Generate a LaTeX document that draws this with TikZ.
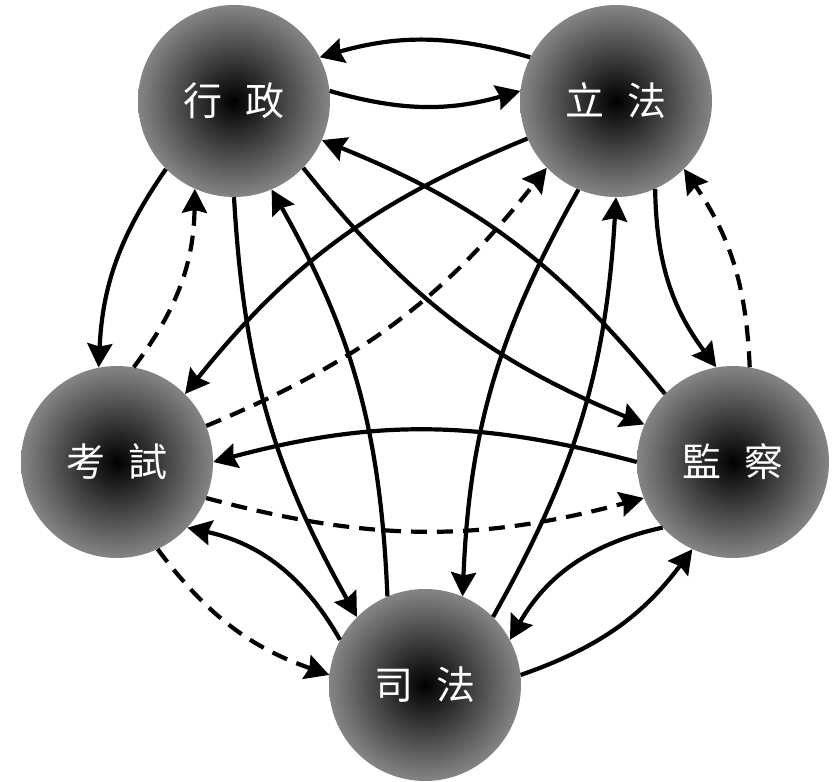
\documentclass[tikz,border=0pt]{standalone}
\usepackage{fontspec}
\newfontfamily\cjk{Noto Sans CJK TC}
\usetikzlibrary{arrows.meta}
\tikzset{
  branch/.style={circle, minimum size=192pt, inner sep=0pt, shading=radial,
    inner color=black, outer color=black!48, text=white,
    font=\cjk\fontsize{39}{39}\selectfont},
  link/.style={line width=4.2pt, -{Stealth[length=24pt,width=25pt,inset=3pt]}},
  weak/.style={link, dash pattern=on 16pt off 10pt}
}
\begin{document}
\begin{tikzpicture}[x=1pt,y=1pt]
\useasboundingbox (0,0) rectangle (836,782);
\node[branch] (xz) at (234,681) {行\hspace{23pt}政};
\node[branch] (lf) at (616,681) {立\hspace{23pt}法};
\node[branch] (ks) at (117,320) {考\hspace{23pt}試};
\node[branch] (jc) at (733,320) {監\hspace{23pt}察};
\node[branch] (sf) at (425,97) {司\hspace{23pt}法};
% executive - legislative
\draw[link] (lf.153) to[bend right=16] (xz.27);
\draw[link] (xz.6) to[bend right=16] (lf.174);
% executive - examination
\draw[link] (xz.225) to[bend right=16] (ks.101);
\draw[weak] (ks.80) to[bend right=18] (xz.246);
% legislative - control
\draw[link] (lf.294) to[bend right=18] (jc.100);
\draw[weak] (jc.80) to[bend right=16] (lf.315);
% examination - control
\draw[link] (jc.180) to[bend right=15] (ks.0);
\draw[weak] (ks.-22) to[bend right=15] (jc.202);
% examination - judicial
\draw[weak] (ks.-65) to[bend right=17] (sf.174);
\draw[link] (sf.152) to[bend right=24] (ks.-43);
% judicial - control
\draw[link] (sf.6) to[bend right=17] (jc.245);
\draw[link] (jc.223) to[bend right=24] (sf.28);
% executive - control
\draw[link] (xz.316) to[bend right=14.5] (jc.157);
\draw[link] (jc.135) to[bend right=14.5] (xz.-24);
% legislative - examination
\draw[link] (lf.203) to[bend right=14.5] (ks.45);
\draw[weak] (ks.22) to[bend right=14.5] (lf.224);
% executive - judicial
\draw[link] (xz.270) to[bend right=13] (sf.135);
\draw[link] (sf.113) to[bend right=13.5] (xz.293);
% legislative - judicial
\draw[link] (lf.247) to[bend right=13.5] (sf.67);
\draw[link] (sf.45) to[bend right=13] (lf.270);
\end{tikzpicture}
\end{document}
